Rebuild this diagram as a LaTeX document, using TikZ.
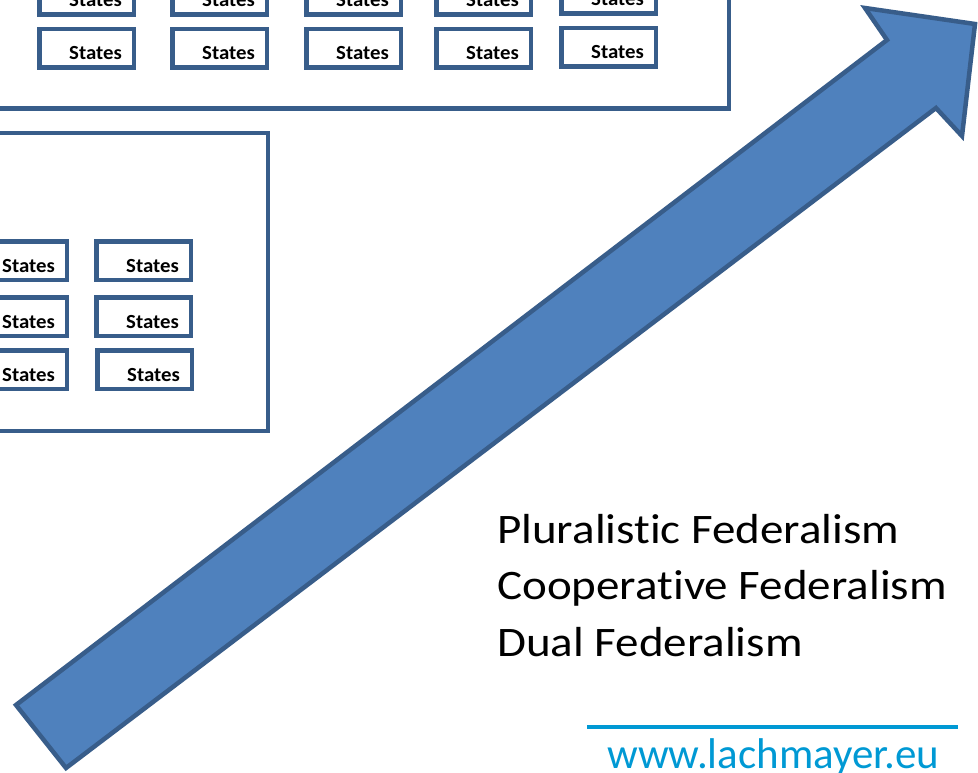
\documentclass[tikz,border=0pt]{standalone}
\usepackage{fontspec}
\setmainfont{Carlito}[Ligatures=NoCommon]
\usetikzlibrary{calc}
\definecolor{shapefill}{HTML}{4F81BD}
\definecolor{shapeline}{HTML}{385D8A}
\definecolor{urlblue}{HTML}{0099D4}
\newcommand{\wideText}[2]{\scalebox{#1}[1]{#2}}
\newcommand{\stateBox}[3]{%
  \node[stbox] (#1) at (#2,#3) {};
  \node[sttext] (#1t) at ($(#1.north west)+(32,33)$) {\wideText{1.04}{States}};
}
\begin{document}
\begin{tikzpicture}[x=1pt,y=-1pt,
  stbox/.style={draw=shapeline, line width=4.5pt, fill=white, rectangle,
    minimum width=94.5pt, minimum height=38.5pt, inner sep=0pt, outer sep=2.25pt, anchor=north west},
  sttext/.style={anchor=base west, inner sep=0pt, font=\bfseries\fontsize{20}{24}\selectfont},
  cont/.style={draw=shapeline, line width=4.5pt, rectangle, inner sep=0pt, outer sep=2.25pt},
  fedtext/.style={anchor=base west, inner sep=0pt, font=\fontsize{42}{50}\selectfont},
  bigarrow/.style={draw=shapeline, fill=shapefill, line width=4.5pt, line join=miter},
]
\useasboundingbox (0,0) rectangle (978,773);
\clip (0,0) rectangle (978,773);

% containers
\node[cont, anchor=south east, minimum width=760pt, minimum height=140pt] (topcont) at (731,111) {};
\node[cont, anchor=north east, minimum width=300pt, minimum height=297.5pt] (lowcont) at (270,131) {};

% top container states
\stateBox{t11}{37}{-26}
\stateBox{t12}{170}{-26}
\stateBox{t13}{304}{-26}
\stateBox{t14}{434}{-26}
\stateBox{t15}{559}{-27}
\stateBox{t21}{37}{27}
\stateBox{t22}{170}{27}
\stateBox{t23}{304}{27}
\stateBox{t24}{434}{27}
\stateBox{t25}{559}{26}

% lower container states
\stateBox{l11}{-30}{239}
\stateBox{l12}{94}{239}
\stateBox{l21}{-30}{295}
\stateBox{l22}{94}{295}
\stateBox{l31}{-30}{348}
\stateBox{l32}{95}{348}

% big arrow
\coordinate (aA) at (16,705);
\coordinate (aB) at (66,768);
\coordinate (aN2) at (936,108);
\coordinate (aR) at (962,136);
\coordinate (aT) at (975,24);
\coordinate (aL) at (865,8);
\coordinate (aN1) at (887,40);
\draw[bigarrow] (aA) -- (aB) -- (aN2) -- (aR) -- (aT) -- (aL) -- (aN1) -- cycle;

% federalism text
\node[fedtext] (fed1) at (497,543) {\wideText{1.12}{Pluralistic Federalism}};
\node[fedtext] (fed2) at (497,599) {\wideText{1.12}{Cooperative Federalism}};
\node[fedtext] (fed3) at (497,656) {\wideText{1.12}{Dual Federalism}};

% url
\coordinate (ul1) at (587,727);
\coordinate (ul2) at (958,727);
\draw[urlblue, line width=3.5pt] (ul1) -- (ul2);
\node[anchor=base west, inner sep=0pt, text=urlblue, font=\fontsize{43}{50}\selectfont] (url) at (607,768) {www.lachmayer.eu};
\end{tikzpicture}
\end{document}
